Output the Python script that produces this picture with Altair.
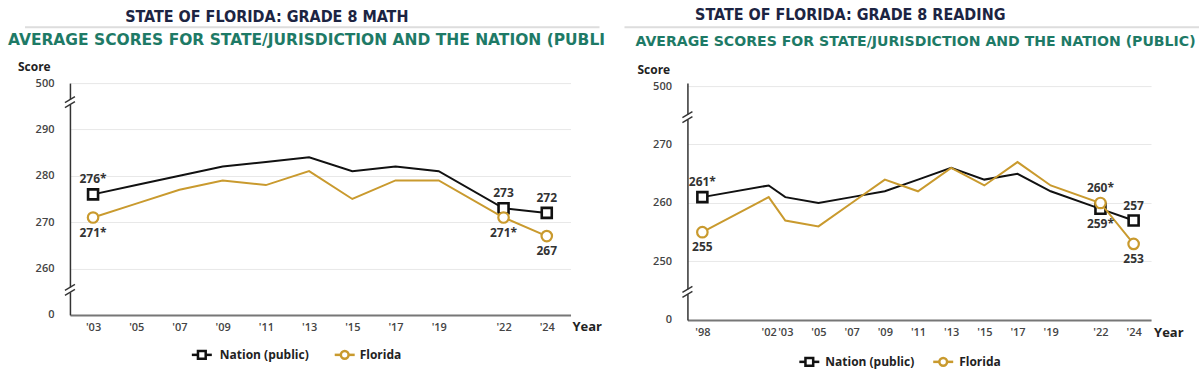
import altair as alt
import pandas as pd

# ---------------- data ----------------
math_years = [2003, 2005, 2007, 2009, 2011, 2013, 2015, 2017, 2019, 2022, 2024]
math_nation = [276, 278, 280, 282, 283, 284, 281, 282, 281, 273, 272]
math_florida = [271, 274, 277, 279, 278, 281, 275, 279, 279, 271, 267]

read_years = [1998, 2002, 2003, 2005, 2007, 2009, 2011, 2013, 2015, 2017, 2019, 2022, 2024]
read_nation = [261, 263, 261, 260, 261, 262, 264, 266, 264, 265, 262, 259, 257]
read_florida = [255, 261, 257, 256, 260, 264, 262, 266, 263, 267, 263, 260, 253]

series_names = ["Nation (public)", "Florida"]
series_colors = ["#111111", "#c99a2e"]

# labelled points: series, year, text
math_label_series = ["Nation (public)", "Florida", "Nation (public)", "Florida", "Nation (public)", "Florida"]
math_label_years = [2003, 2003, 2022, 2022, 2024, 2024]
math_label_text = ["276*", "271*", "273", "271*", "272", "267"]
math_label_above = [True, False, True, False, True, False]

read_label_series = ["Nation (public)", "Florida", "Florida", "Nation (public)", "Nation (public)", "Florida"]
read_label_years = [1998, 1998, 2022, 2022, 2024, 2024]
read_label_text = ["261*", "255", "260*", "259*", "257", "253"]
read_label_above = [True, False, True, False, True, False]

math_x_ticks = [2003, 2005, 2007, 2009, 2011, 2013, 2015, 2017, 2019, 2022, 2024]
read_x_ticks = [1998, 2002, 2003, 2005, 2007, 2009, 2011, 2013, 2015, 2017, 2019, 2022, 2024]

# broken axis: bottom and top ticks stand for 0 and 500
math_y_ticks = [250, 260, 270, 280, 290, 300]
math_y_labels = ["0", "260", "270", "280", "290", "500"]
math_breaks = [295.9, 255.4]
read_y_ticks = [240, 250, 260, 270, 280]
read_y_labels = ["0", "250", "260", "270", "500"]
read_breaks = [274.7, 244.8]

TITLE_FONT = "'Liberation Sans Narrow', 'DejaVu Sans Condensed', 'Roboto Condensed', 'Open Sans Condensed', 'Roboto', sans-serif"
SUB_FONT = "DejaVu Sans"
FONT = "Open Sans"
one = pd.DataFrame({"a": [0]})


def deco_text(txt, x, y, **kw):
    return alt.Chart(one).mark_text(text=txt, **kw).encode(x=alt.value(x), y=alt.value(y))


def deco_rule(x, x2, y, y2, **kw):
    return alt.Chart(one).mark_rule(**kw).encode(
        x=alt.value(x), x2=alt.value(x2), y=alt.value(y), y2=alt.value(y2))


def legend_item(name, color, shape, x0, y, text_x):
    line = deco_rule(x0, x0 + 20, y, y, color=color, strokeWidth=2.5)
    pt = alt.Chart(one).mark_point(
        shape=shape, filled=True, fill="white", stroke=color, strokeWidth=2.5,
        size=60, opacity=1).encode(x=alt.value(x0 + 10), y=alt.value(y))
    lbl = deco_text(name, text_x, y, align="left", baseline="middle", font=FONT,
                    fontSize=12, fontWeight=700, color="#222")
    return [line, pt, lbl]


def panel(title, years, nation, florida, lab_series, lab_years, lab_text, lab_above,
          x_domain, x_ticks, y_domain, y_ticks, y_labels, breaks, width, height, pos):
    rows = []
    for s, vals in zip(series_names, [nation, florida]):
        for yr, v in zip(years, vals):
            rows.append({"year": yr, "score": v, "series": s})
    df = pd.DataFrame(rows)
    lookup = {(r["series"], r["year"]): r["score"] for r in rows}
    lab = pd.DataFrame({
        "series": lab_series, "year": lab_years, "text": lab_text, "above": lab_above,
        "score": [lookup[(s, y)] for s, y in zip(lab_series, lab_years)],
    })

    expr = "datum.label"
    for v, l in zip(y_ticks, y_labels):
        expr = f"datum.value == {v} ? '{l}' : " + expr

    x_axis = alt.Axis(values=x_ticks, labelExpr="\"'\" + slice(toString(datum.value), 2)",
                      title=None, ticks=False, grid=False, domainColor="#777",
                      domainWidth=2, labelFont=FONT, labelFontSize=11,
                      labelFontWeight=600, labelColor="#444", labelPadding=7,
                      labelFlush=False, labelOverlap=False, zindex=0)
    y_axis = alt.Axis(values=y_ticks, labelExpr=expr, title=None, ticks=False,
                      grid=True, gridColor="#e8e8e8", gridWidth=1,
                      domainColor="#333", domainWidth=1.5, labelFont=FONT,
                      labelFontSize=11, labelFontWeight=600, labelColor="#444",
                      labelPadding=16, zindex=0)
    xs = alt.Scale(domain=x_domain, nice=False, zero=False)
    ys = alt.Scale(domain=y_domain, nice=False, zero=False)
    X = alt.X("year:Q", scale=xs, axis=x_axis)
    Y = alt.Y("score:Q", scale=ys, axis=y_axis)

    layers = []
    # anchor (invisible) to fix the panel's outer frame
    layers.append(alt.Chart(one).mark_rect(opacity=0).encode(
        x=alt.value(pos["x0"]), x2=alt.value(pos["x1"]),
        y=alt.value(pos["y0"]), y2=alt.value(pos["y1"])))

    for s, c, shape, sw, sz in [(series_names[0], series_colors[0], "square", 2.6, 100),
                                (series_names[1], series_colors[1], "circle", 2.2, 110)]:
        layers.append(alt.Chart(df).transform_filter(alt.datum.series == s)
                      .mark_line(color=c, strokeWidth=2).encode(x=X, y=Y))
        layers.append(alt.Chart(lab).transform_filter(alt.datum.series == s)
                      .mark_point(shape=shape, filled=True, fill="white", stroke=c,
                                  strokeWidth=sw, size=sz, opacity=1).encode(x=X, y=Y))

    txt = dict(font=FONT, fontSize=12, fontWeight=700, color="#333", align="center",
               baseline="middle")
    layers.append(alt.Chart(lab).transform_filter(alt.datum.above == True)
                  .mark_text(dy=-15, **txt).encode(x=X, y=Y, text="text:N"))
    layers.append(alt.Chart(lab).transform_filter(alt.datum.above == False)
                  .mark_text(dy=15, **txt).encode(x=X, y=Y, text="text:N"))

    # axis breaks
    bdf = pd.DataFrame({"score": breaks})
    layers.append(alt.Chart(bdf).mark_rule(color="white", strokeWidth=4, yOffset=-2.5,
                                           y2Offset=2.5)
                  .encode(x=alt.value(0), y=Y, y2="score:Q"))
    for off in (-2.5, 2.5):
        layers.append(alt.Chart(bdf).mark_rule(color="#333", strokeWidth=1.4,
                                               yOffset=off + 3, y2Offset=off - 3)
                      .encode(x=alt.value(-5), x2=alt.value(5), y=Y, y2="score:Q"))

    # titles and decorations
    layers.append(deco_text(title, pos["title_x"], pos["title_y"], font=TITLE_FONT,
                            fontSize=16, fontWeight="bold", color="#1c2442",
                            align="center", baseline="middle"))
    layers.append(deco_rule(pos["line_x0"], pos["line_x1"], pos["line_y"], pos["line_y"],
                            color="#dddddd", strokeWidth=2))
    layers.append(deco_text("AVERAGE SCORES FOR STATE/JURISDICTION AND THE NATION (PUBLIC)",
                            pos["sub_x"], pos["sub_y"], font=SUB_FONT,
                            fontSize=pos["sub_size"], fontWeight="bold", color="#1e7a66",
                            align="left", baseline="middle", limit=pos["sub_limit"],
                            ellipsis="\u200b"))
    layers.append(deco_text("Score", pos["score_x"], pos["score_y"], font=FONT,
                            fontSize=12, fontWeight=700, color="#222", align="left",
                            baseline="middle"))
    layers.append(deco_text("Year", pos["year_x"], pos["year_y"], font=FONT,
                            fontSize=13, fontWeight=700, color="#222", align="left",
                            baseline="middle"))
    layers += legend_item(series_names[0], series_colors[0], "square",
                          pos["leg1_x"], pos["leg_y"], pos["leg1_tx"])
    layers += legend_item(series_names[1], series_colors[1], "circle",
                          pos["leg2_x"], pos["leg_y"], pos["leg2_tx"])

    return alt.layer(*layers).properties(width=width, height=height)


left_pos = dict(x0=-70, x1=530, y0=-83, y1=292,
                title_x=197, title_y=-66, line_x0=-45, line_x1=530, line_y=-56,
                sub_x=-62, sub_y=-43, sub_limit=604, sub_size=15.5, score_x=-52,
                score_y=-16, year_x=503, year_y=12 + 232, leg1_x=122, leg1_tx=150,
                leg2_x=265, leg2_tx=290, leg_y=272)
right_pos = dict(x0=-88, x1=512, y0=-83, y1=292,
                 title_x=163, title_y=-68, line_x0=-63, line_x1=512, line_y=-56,
                 sub_x=-52, sub_y=-41, sub_limit=600, sub_size=14.1, score_x=-50,
                 score_y=-13, year_x=467, year_y=13 + 237, leg1_x=112, leg1_tx=138,
                 leg2_x=246, leg2_tx=272, leg_y=279)

left = panel("STATE OF FLORIDA: GRADE 8 MATH", math_years, math_nation, math_florida,
             math_label_series, math_label_years, math_label_text, math_label_above,
             [2001.93, 2025.1], math_x_ticks, [250, 300], math_y_ticks, math_y_labels,
             math_breaks, 501, 232, left_pos)
right = panel("STATE OF FLORIDA: GRADE 8 READING", read_years, read_nation, read_florida,
              read_label_series, read_label_years, read_label_text, read_label_above,
              [1997.1, 2025.05], read_x_ticks, [240, 280.51], read_y_ticks, read_y_labels,
              read_breaks, 464, 237, right_pos)

chart = alt.hconcat(left, right, spacing=117, bounds="flush").properties(
    padding=0, background="white"
).configure_view(stroke=None)

chart.save("out.html", embed_options={"renderer": "svg", "actions": False})
